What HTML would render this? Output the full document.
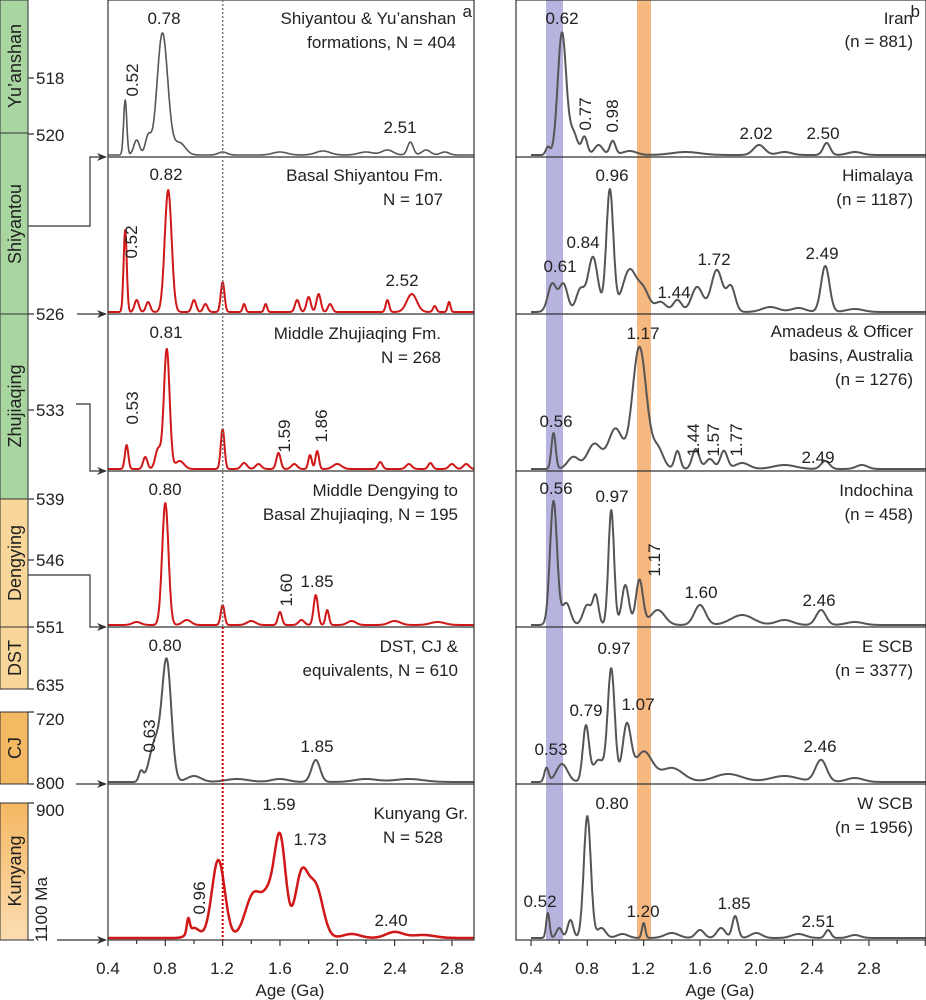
<!DOCTYPE html>
<html><head><meta charset="utf-8"><style>
body{margin:0;background:#fff;}
svg{display:block;font-family:"Liberation Sans",Arial,sans-serif;}
</style></head><body>
<svg id="s" width="926" height="1000" viewBox="0 0 926 1000" xmlns="http://www.w3.org/2000/svg">
<defs><linearGradient id="kg" x1="0" y1="0" x2="0" y2="1"><stop offset="0" stop-color="#f5b863"/><stop offset="1" stop-color="#fbdcb0"/></linearGradient>
<marker id="ar" markerWidth="10" markerHeight="8" refX="9" refY="4" orient="auto" markerUnits="userSpaceOnUse"><path d="M0,0 L10,4 L0,8 L3,4z" fill="#333"/></marker></defs>
<rect x="546" y="0" width="17" height="940" fill="#b7b3df"/>
<rect x="637" y="0" width="14" height="940" fill="#f5b880"/>
<g stroke="#333" stroke-width="1">
<rect x="0" y="0" width="28" height="133" fill="#a8d5a0"/>
<rect x="0" y="133" width="28" height="181" fill="#a8d5a0"/>
<rect x="0" y="314" width="28" height="185" fill="#a8d5a0"/>
<rect x="0" y="499" width="28" height="128" fill="#f9d79a"/>
<rect x="0" y="627" width="28" height="62" fill="#f9d79a"/>
<rect x="0" y="712" width="28" height="72" fill="#f5b863"/>
<rect x="0" y="803" width="28" height="137" fill="url(#kg)"/>
</g>
<g font-size="18" fill="#222" text-anchor="middle">
<text transform="translate(21,66) rotate(-90)">Yu’anshan</text>
<text transform="translate(21,224) rotate(-90)">Shiyantou</text>
<text transform="translate(21,406) rotate(-90)">Zhujiaqing</text>
<text transform="translate(21,563) rotate(-90)">Dengying</text>
<text transform="translate(21,658) rotate(-90)">DST</text>
<text transform="translate(21,748) rotate(-90)">CJ</text>
<text transform="translate(21,871) rotate(-90)">Kunyang</text>
</g>
<g font-size="17" fill="#222">
<text x="36" y="84">518</text><text x="36" y="141">520</text><text x="36" y="320">526</text>
<text x="36" y="416">533</text><text x="36" y="505">539</text><text x="36" y="566">546</text>
<text x="36" y="633">551</text><text x="36" y="691">635</text><text x="36" y="725">720</text>
<text x="36" y="789">800</text><text x="36" y="816">900</text>
<text transform="translate(47,942) rotate(-90)">1100 Ma</text>
</g>
<g stroke="#333" stroke-width="1.2" fill="none">
<path d="M28,78H34M28,134H34M28,314H34M28,410H34M28,499H34M28,560H34M28,627H34M28,689H34M28,712H34M28,784H34M28,803H34M28,940H34"/>
<path d="M28,226H90V157H106" marker-end="url(#ar)"/>
<path d="M77,314H106" marker-end="url(#ar)"/>
<path d="M76,404H90V471H106" marker-end="url(#ar)"/>
<path d="M28,575H90V627H106" marker-end="url(#ar)"/>
<path d="M76,784H106" marker-end="url(#ar)"/>
<path d="M57,940H106" marker-end="url(#ar)"/>
</g>
<g id="plots"></g>
<g stroke="#333" stroke-width="1.2" fill="none">
<rect x="108" y="0" width="366" height="940"/>
<rect x="516" y="0" width="410" height="940"/>
<path d="M108,157H474M108,314H474M108,471H474M108,627H474M108,784H474"/>
<path d="M516,157H926M516,314H926M516,471H926M516,627H926M516,784H926"/>
</g>
<line x1="222.7" y1="0" x2="222.7" y2="627" stroke="#777" stroke-width="1.5" stroke-dasharray="2,2"/>
<line x1="222.7" y1="627" x2="222.7" y2="940" stroke="#c00" stroke-width="2" stroke-dasharray="2,2"/>
<g id="ticks" stroke="#333" stroke-width="1.2"></g>
<g font-size="17" fill="#222" text-anchor="middle">
<text x="108" y="974">0.4</text><text x="165" y="974">0.8</text><text x="222" y="974">1.2</text><text x="280" y="974">1.6</text><text x="337" y="974">2.0</text><text x="395" y="974">2.4</text><text x="452" y="974">2.8</text>
<text x="531" y="974">0.4</text><text x="587" y="974">0.8</text><text x="643" y="974">1.2</text><text x="700" y="974">1.6</text><text x="756" y="974">2.0</text><text x="812" y="974">2.4</text><text x="869" y="974">2.8</text>
<text x="290" y="996">Age (Ga)</text><text x="720" y="996">Age (Ga)</text>
</g>
<g font-size="17" fill="#222" text-anchor="end">
<text x="472" y="17">a</text><text x="920" y="17">b</text>
<text x="456" y="24">Shiyantou &amp; Yu’anshan</text><text x="456" y="48">formations, N = 404</text>
<text x="443" y="181">Basal Shiyantou Fm.</text><text x="443" y="205">N = 107</text>
<text x="441" y="339">Middle Zhujiaqing Fm.</text><text x="441" y="363">N = 268</text>
<text x="458" y="496">Middle Dengying to</text><text x="458" y="520">Basal Zhujiaqing, N = 195</text>
<text x="458" y="652">DST, CJ &amp;</text><text x="458" y="676">equivalents, N = 610</text>
<text x="468" y="819">Kunyang Gr.</text><text x="443" y="843">N = 528</text>
<text x="913" y="24">Iran</text><text x="913" y="47">(n = 881)</text>
<text x="913" y="181">Himalaya</text><text x="913" y="205">(n = 1187)</text>
<text x="913" y="337">Amadeus &amp; Officer</text><text x="913" y="361">basins, Australia</text><text x="913" y="385">(n = 1276)</text>
<text x="913" y="496">Indochina</text><text x="913" y="520">(n = 458)</text>
<text x="913" y="652">E SCB</text><text x="913" y="676">(n = 3377)</text>
<text x="913" y="809">W SCB</text><text x="913" y="833">(n = 1956)</text>
</g>
<g font-size="17" fill="#222" text-anchor="middle">
<text x="126" y="92" transform="rotate(-90 126 80)">0.52</text>
<text x="164" y="24">0.78</text><text x="400" y="133">2.51</text>
<text x="126" y="253" transform="rotate(-90 126 242)">0.52</text>
<text x="166" y="180">0.82</text><text x="402" y="286">2.52</text>
<text x="127" y="419" transform="rotate(-90 127 408)">0.53</text>
<text x="166" y="338">0.81</text>
<text x="278" y="448" transform="rotate(-90 278 436)">1.59</text><text x="311" y="442" transform="rotate(-90 311 426)">1.86</text>
<text x="165" y="495">0.80</text>
<text x="279" y="603" transform="rotate(-90 279 590)">1.60</text><text x="317" y="587">1.85</text>
<text x="165" y="651">0.80</text><text x="143" y="748" transform="rotate(-90 143 736)">0.63</text><text x="317" y="752">1.85</text>
<text x="193" y="910" transform="rotate(-90 193 898)">0.96</text>
<text x="279" y="810">1.59</text><text x="310" y="845">1.73</text><text x="391" y="926">2.40</text>
<text x="562" y="24">0.62</text>
<text x="585" y="120" transform="rotate(-90 585 114)">0.77</text><text x="612" y="122" transform="rotate(-90 612 116)">0.98</text>
<text x="756" y="139">2.02</text><text x="823" y="139">2.50</text>
<text x="560" y="272">0.61</text><text x="583" y="248">0.84</text><text x="612" y="181">0.96</text>
<text x="674" y="298">1.44</text><text x="714" y="265">1.72</text><text x="822" y="259">2.49</text>
<text x="643" y="339">1.17</text><text x="556" y="427">0.56</text>
<text x="683" y="456" transform="rotate(-90 683 440)">1.44</text><text x="703" y="456" transform="rotate(-90 703 440)">1.57</text><text x="726" y="456" transform="rotate(-90 726 440)">1.77</text>
<text x="818" y="463">2.49</text>
<text x="556" y="494">0.56</text><text x="612" y="502">0.97</text>
<text x="648" y="572" transform="rotate(-90 648 560)">1.17</text>
<text x="701" y="598">1.60</text><text x="819" y="606">2.46</text>
<text x="551" y="755">0.53</text><text x="586" y="716">0.79</text><text x="614" y="654">0.97</text><text x="638" y="710">1.07</text><text x="820" y="752">2.46</text>
<text x="540" y="907">0.52</text><text x="612" y="809">0.80</text><text x="643" y="917">1.20</text><text x="734" y="909">1.85</text><text x="818" y="927">2.51</text>
</g>
</svg>
<script>
var NS="http://www.w3.org/2000/svg";
function xl(a){return 108+(a-0.4)*143.3;}
function xr(a){return 531+(a-0.4)*140.8;}
var G="#555",R="#d01818";
var curves=[
 [xl,155,G,1.6,0.45,3.0,[[0.52,55,.011],[0.6,15,.02],[0.68,18,.02],[0.78,122,.037],[0.9,12,.04],[1.2,3,.03],[1.6,3,.05],[1.9,4,.05],[2.2,3,.05],[2.35,5,.04],[2.51,13,.02],[2.62,5,.03],[2.75,3,.03]]],
 [xl,312,R,2,0.45,3.0,[[0.52,82,.011],[0.6,12,.015],[0.68,10,.015],[0.82,122,.024],[1.0,12,.015],[1.08,8,.015],[1.2,30,.013],[1.35,8,.01],[1.5,8,.01],[1.72,12,.015],[1.8,15,.015],[1.87,18,.015],[1.95,8,.015],[2.35,12,.012],[2.52,18,.035],[2.68,6,.012],[2.78,10,.01]]],
 [xl,469,R,2,0.45,3.0,[[0.53,24,.012],[0.66,12,.015],[0.75,20,.02],[0.81,120,.02],[0.9,8,.03],[1.2,40,.013],[1.35,6,.02],[1.45,5,.02],[1.59,16,.015],[1.7,5,.02],[1.81,14,.012],[1.86,18,.012],[2.0,5,.03],[2.3,7,.015],[2.5,5,.02],[2.65,6,.015],[2.8,5,.02],[2.9,5,.02]]],
 [xl,625,R,2,0.45,3.0,[[0.6,3,.03],[0.8,122,.022],[0.95,5,.03],[1.2,20,.013],[1.4,4,.03],[1.6,13,.014],[1.75,5,.02],[1.85,30,.015],[1.93,15,.012],[2.1,4,.03],[2.4,4,.04],[2.7,3,.05]]],
 [xl,782,G,2,0.58,3.0,[[0.63,10,.015],[0.73,40,.04],[0.81,118,.032],[1.0,6,.05],[1.3,3,.08],[1.6,3,.06],[1.85,22,.03],[2.2,3,.08],[2.5,3,.1]]],
 [xl,938,R,2.5,0.85,3.0,[[0.96,14,.01],[1.0,10,.04],[1.17,78,.045],[1.42,45,.06],[1.52,30,.04],[1.6,100,.04],[1.75,62,.045],[1.85,50,.05],[2.1,4,.06],[2.4,6,.06],[2.6,3,.08]]],
 [xr,155,G,2,0.42,3.2,[[0.52,8,.015],[0.62,122,.03],[0.7,22,.03],[0.78,18,.02],[0.88,10,.03],[0.98,14,.02],[1.1,4,.05],[1.5,3,.1],[2.02,10,.04],[2.2,3,.05],[2.5,12,.025],[2.7,3,.05]]],
 [xr,312,G,2,0.42,3.2,[[0.55,28,.03],[0.63,28,.03],[0.75,22,.03],[0.84,55,.035],[0.96,122,.025],[1.1,42,.05],[1.2,20,.04],[1.32,10,.04],[1.44,12,.03],[1.58,25,.04],[1.72,42,.04],[1.82,25,.03],[2.1,5,.06],[2.3,4,.05],[2.49,46,.03],[2.7,3,.06]]],
 [xr,469,G,2,0.42,3.2,[[0.56,36,.015],[0.7,12,.04],[0.85,25,.05],[1.0,40,.05],[1.17,122,.05],[1.3,20,.04],[1.44,18,.02],[1.57,20,.025],[1.67,10,.03],[1.77,18,.025],[1.9,6,.05],[2.2,4,.08],[2.49,8,.03],[2.75,4,.04]]],
 [xr,625,G,2,0.42,3.2,[[0.56,124,.025],[0.65,22,.03],[0.8,20,.03],[0.86,28,.02],[0.97,115,.02],[1.07,40,.025],[1.17,45,.025],[1.3,15,.05],[1.6,20,.04],[1.9,10,.08],[2.2,5,.06],[2.46,15,.035],[2.7,3,.06]]],
 [xr,782,G,2,0.42,3.2,[[0.51,14,.015],[0.62,18,.04],[0.79,55,.022],[0.88,22,.04],[0.97,112,.025],[1.08,55,.03],[1.2,30,.06],[1.4,14,.08],[1.8,8,.1],[2.2,6,.1],[2.46,22,.04],[2.7,4,.06]]],
 [xr,938,G,2,0.42,3.2,[[0.52,25,.012],[0.6,10,.02],[0.68,18,.02],[0.8,122,.025],[0.9,10,.03],[1.05,4,.04],[1.2,15,.012],[1.4,5,.05],[1.6,8,.03],[1.75,10,.03],[1.85,22,.02],[2.0,5,.04],[2.3,4,.05],[2.51,8,.02],[2.7,3,.04]]]
];
var g=document.getElementById("plots");
curves.forEach(function(c){
 var fx=c[0],base=c[1],d="";
 var a0=0.4, a1=(fx===xl)?3.0:3.4;
 for(var a=a0;a<=a1;a+=0.003){
  var y=0;
  if(a>=c[4]&&a<=c[5]) c[6].forEach(function(p){y+=p[1]*Math.exp(-Math.pow((a-p[0])/p[2],2)/2);});
  y=Math.min(y,150);
  var X=fx(a); if(fx===xr&&X>926)break; if(fx===xl&&X>474)break;
  if(fx===xr&&X<516)continue;
  d+=(d?"L":"M")+X.toFixed(1)+","+(base-y).toFixed(1);
 }
 var p=document.createElementNS(NS,"path");
 p.setAttribute("d",d);p.setAttribute("fill","none");p.setAttribute("stroke",c[2]);p.setAttribute("stroke-width",c[3]);p.setAttribute("stroke-linejoin","round");
 g.appendChild(p);
});
var t=document.getElementById("ticks"),dd="";
for(var a=0.4;a<=3.01;a+=0.2){var X=xl(a);if(X<=474)dd+="M"+X+",940V"+(Math.round(a*10)%4==0?946:944);}
for(var a=0.4;a<=3.41;a+=0.2){var X=xr(a);if(X<=926)dd+="M"+X+",940V"+(Math.round(a*10)%4==0?946:944);}
var tp=document.createElementNS(NS,"path");tp.setAttribute("d",dd);t.appendChild(tp);
</script>
</body></html>
